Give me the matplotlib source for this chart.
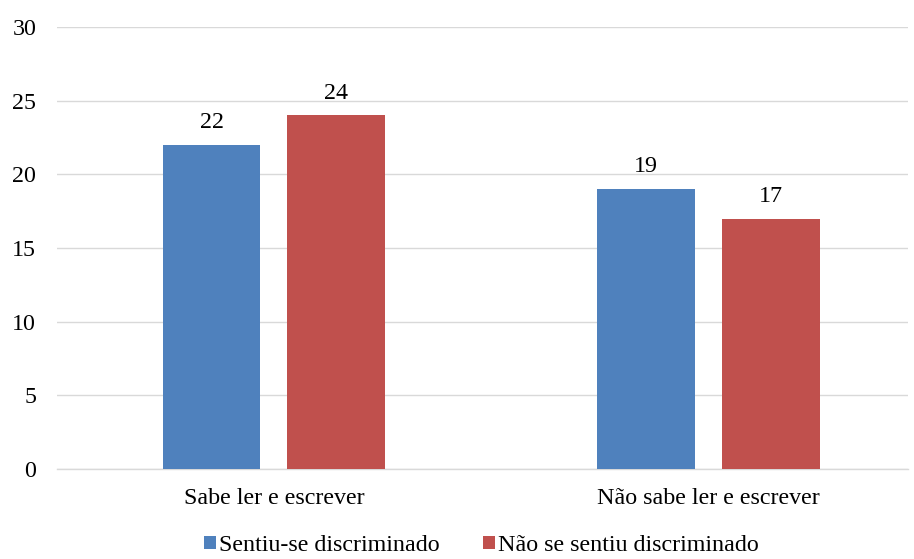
import matplotlib.pyplot as plt
import numpy as np

categories = ["Sabe ler e escrever", "Não sabe ler e escrever"]
series_names = ["Sentiu-se discriminado", "Não se sentiu discriminado"]
sentiu = [22, 19]
nao_sentiu = [24, 17]

colors = ["#4F81BD", "#C0504D"]

plt.rcParams["font.family"] = ["Liberation Serif", "DejaVu Serif"]
plt.rcParams["font.size"] = 17.3

fig = plt.figure(figsize=(9.14, 5.59), dpi=100)
ax = fig.add_axes([0.0624, 0.161, 0.931, 0.7907])

x = np.arange(len(categories))
width = 0.2256
gap = 0.062
offset = (width + gap) / 2

for vals, name, color, sign in zip([sentiu, nao_sentiu], series_names, colors, [-1, 1]):
    bars = ax.bar(x + sign * offset, vals, width, color=color, label=name, zorder=3)
    for b, v in zip(bars, vals):
        ax.text(b.get_x() + b.get_width() / 2, v + 0.8, str(v),
                ha="center", va="bottom")

ax.set_xlim(-0.4995, 1.46)
ax.set_ylim(0, 30)
ax.set_yticks(range(0, 31, 5))
ax.set_xticks(x)
ax.set_xticklabels(categories)
ax.yaxis.grid(True, color="#D9D9D9", linewidth=1, zorder=0)
for s in ["top", "right", "left"]:
    ax.spines[s].set_visible(False)
ax.spines["bottom"].set_color("#D9D9D9")
ax.spines["bottom"].set_linewidth(1)
ax.tick_params(axis="both", length=0)
ax.tick_params(axis="y", pad=15)
ax.tick_params(axis="x", pad=14)

fig.legend(loc="lower center", bbox_to_anchor=(0.527, -0.033), ncol=2, frameon=False,
           handlelength=0.47, handleheight=0.47, handletextpad=0.15, columnspacing=1.8)

fig.savefig("out.png", dpi=100)
